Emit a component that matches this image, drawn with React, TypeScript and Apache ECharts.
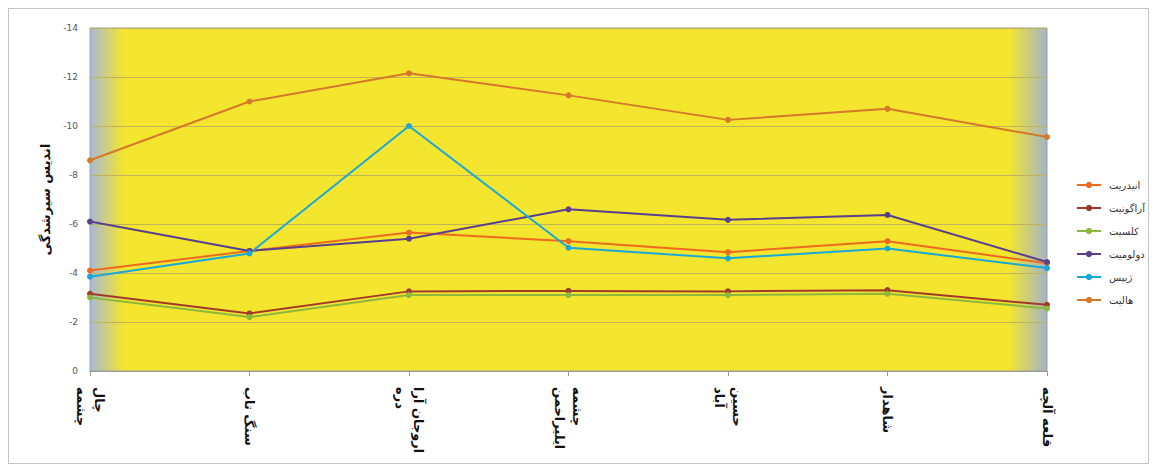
import React, { useEffect, useRef } from "react";
import * as echarts from "echarts";

// Sampling stations along the x axis
const stations = [
  "چال\nچشمه",
  "سنگ تاب",
  "اروجان آرا\nدره",
  "چشمه\nایلیراحمن",
  "حسین\nآباد",
  "شاهدار",
  "قلعه آلچه",
];

// Saturation index of each mineral at each station
const anhydrite = [-4.1, -4.9, -5.65, -5.3, -4.85, -5.3, -4.4];
const aragonite = [-3.15, -2.35, -3.25, -3.27, -3.25, -3.3, -2.7];
const calcite = [-3.0, -2.2, -3.1, -3.1, -3.1, -3.15, -2.55];
const dolomite = [-6.1, -4.9, -5.4, -6.6, -6.17, -6.37, -4.45];
const gypsum = [-3.85, -4.8, -10.0, -5.03, -4.6, -5.0, -4.2];
const halite = [-8.6, -11.0, -12.15, -11.25, -10.25, -10.7, -9.55];

const seriesNames = ["انیدریت", "آراگونیت", "کلسیت", "دولومیت", "ژیپس", "هالیت"];
const seriesData = [anhydrite, aragonite, calcite, dolomite, gypsum, halite];
const seriesColors = ["#ee6a1e", "#a23a2a", "#8db83c", "#5a3f8e", "#19a9d8", "#d6782a"];

const yTitle = "اندیس سیرشدگی";
const FONT = "'DejaVu Sans', sans-serif";

export default function App() {
  const ref = useRef<HTMLDivElement>(null);

  useEffect(() => {
    if (!ref.current) return;
    const chart = echarts.init(ref.current, undefined, { renderer: "svg" });
    chart.setOption({
      animation: false,
      backgroundColor: "#ffffff",
      textStyle: { fontFamily: FONT },
      grid: {
        left: 81,
        right: 101,
        top: 19,
        bottom: 92,
        show: true,
        borderColor: "#9aa0a8",
        borderWidth: 1,
        backgroundColor: new echarts.graphic.LinearGradient(0, 0, 1, 0, [
          { offset: 0, color: "#a9b9d2" },
          { offset: 0.035, color: "#f4e52f" },
          { offset: 0.96, color: "#f4e52f" },
          { offset: 1, color: "#a4b4c8" },
        ]),
      },
      legend: {
        orient: "vertical",
        left: 1062,
        top: 166,
        itemGap: 13,
        itemWidth: 24,
        itemHeight: 8,
        textStyle: { fontSize: 10, color: "#333", fontFamily: FONT, padding: [0, 0, 0, 3] },
        data: seriesNames,
      },
      xAxis: {
        type: "category",
        data: stations,
        boundaryGap: false,
        axisLine: { lineStyle: { color: "#9a9a9a" } },
        axisTick: { show: true, lineStyle: { color: "#9a9a9a" } },
        axisLabel: {
          rotate: -90,
          interval: 0,
          margin: 16,
          fontSize: 13,
          fontWeight: "bold",
          color: "#111",
          lineHeight: 18,
          fontFamily: FONT,
        },
      },
      yAxis: {
        type: "value",
        min: -14,
        max: 0,
        interval: 2,
        inverse: true,
        name: yTitle,
        nameLocation: "middle",
        nameGap: 36,
        nameTextStyle: { fontSize: 13, fontWeight: "bold", color: "#111", fontFamily: FONT },
        axisLine: { show: true, lineStyle: { color: "#9fb0c8" } },
        axisTick: { show: false },
        axisLabel: { fontSize: 9, color: "#555", margin: 12 },
        splitLine: { lineStyle: { color: "#bfb45c", width: 1 } },
      },
      series: seriesNames.map((name, i) => ({
        name,
        type: "line",
        data: seriesData[i],
        symbol: "circle",
        symbolSize: 6,
        lineStyle: { width: 2, color: seriesColors[i] },
        itemStyle: { color: seriesColors[i] },
      })),
    });
    return () => chart.dispose();
  }, []);

  return (
    <div
      ref={ref}
      style={{
        width: 1141,
        height: 456,
        border: "1px solid #c4c4c4",
        boxSizing: "border-box",
      }}
    />
  );
}
